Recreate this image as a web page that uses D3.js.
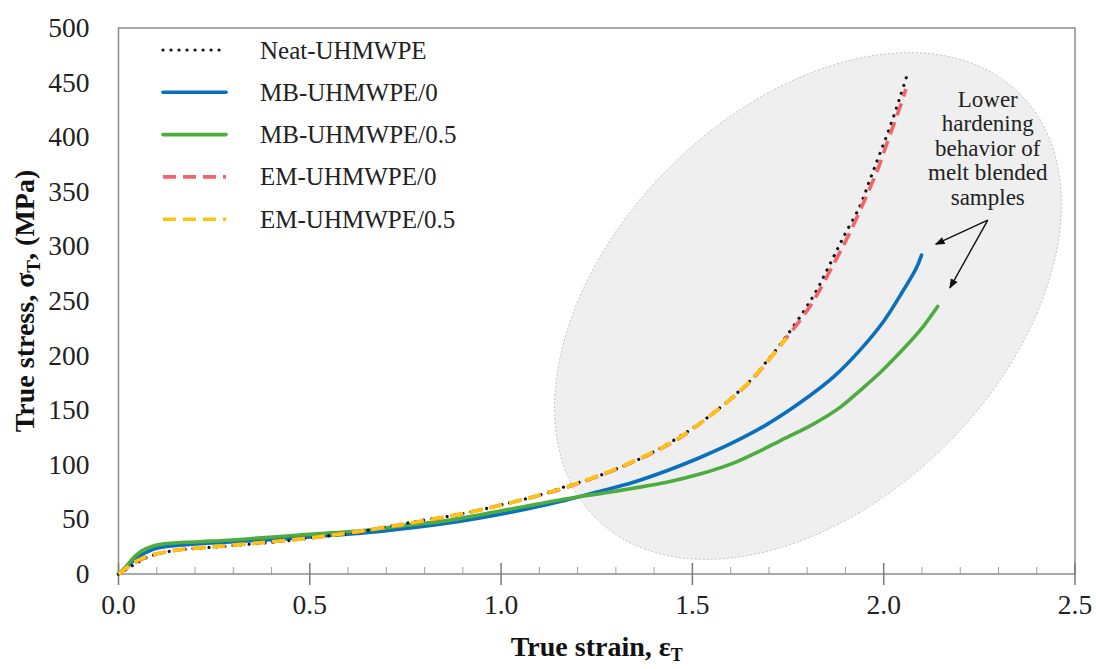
<!DOCTYPE html>
<html>
<head>
<meta charset="utf-8">
<script src="https://cdn.jsdelivr.net/npm/d3@7.9.0/dist/d3.min.js"></script>
<style>
  body { margin: 0; background: #fff; }
  svg { display: block; font-family: "Liberation Serif", "DejaVu Serif", serif; }
</style>
</head>
<body>
<svg id="chart" width="1096" height="669"></svg>
<script>
// values (true strain vs true stress, MPa)
const neatStrain = [0, 0.02, 0.04, 0.06, 0.08, 0.115, 0.16, 0.2, 0.265, 0.35, 0.42, 0.5, 0.6, 0.683, 0.8, 0.866, 0.945, 1.006, 1.093, 1.154, 1.232, 1.293, 1.363, 1.42, 1.49, 1.542, 1.603, 1.651, 1.703, 1.742, 1.79, 1.825, 1.86, 1.894, 1.938, 1.964, 1.99, 2.017, 2.043, 2.064];
const neatStress = [0, 4, 8.5, 12.5, 16, 19.5, 22, 23.5, 25, 27.5, 29.6, 33, 37, 42, 49.5, 53, 58.6, 63.8, 71.5, 78.5, 87, 95, 105.5, 116, 131, 144, 161.5, 177, 198.5, 216, 240, 260, 284, 308, 337, 361, 385, 410, 437, 460];

const mb0Strain = [0, 0.02, 0.04, 0.06, 0.08, 0.1, 0.13, 0.2, 0.3, 0.4, 0.5, 0.6, 0.683, 0.858, 1.032, 1.171, 1.25, 1.346, 1.433, 1.52, 1.607, 1.695, 1.782, 1.869, 1.938, 1.999, 2.051, 2.085, 2.099];
const mb0Stress = [0, 6, 12.5, 17.5, 21, 23.5, 25.5, 27.5, 29.5, 31.5, 34, 36.5, 39, 46.4, 57, 67.8, 75, 84, 94.5, 106.7, 120.5, 137, 157, 180.5, 205, 231, 259.6, 280, 292];

const mb05Strain = [0, 0.02, 0.04, 0.06, 0.082, 0.1, 0.126, 0.213, 0.3, 0.474, 0.649, 0.736, 0.858, 1.032, 1.206, 1.259, 1.337, 1.433, 1.52, 1.607, 1.677, 1.729, 1.816, 1.886, 1.938, 1.991, 2.043, 2.095, 2.141];
const mb05Stress = [0, 7, 15, 21, 24.5, 26.5, 28, 29.6, 31.2, 35.7, 40, 44, 48.9, 60, 71, 73.5, 78, 84, 91.5, 101.5, 112.8, 122, 137.3, 152.6, 168, 184.5, 203, 223, 245];

const em0Strain = [0, 0.02, 0.04, 0.06, 0.08, 0.12, 0.17, 0.25, 0.35, 0.474, 0.6, 0.736, 0.85, 0.95, 1.05, 1.15, 1.25, 1.35, 1.45, 1.55, 1.65, 1.745, 1.807, 1.868, 1.912, 1.956, 1.986, 2.012, 2.043, 2.058];
const em0Stress = [0, 5, 10, 13.5, 16.5, 20, 22.6, 25, 28, 32, 37.5, 45, 52, 59, 67.5, 77, 89, 103.5, 121, 146, 176, 216, 245, 283, 313, 347, 372, 398, 428, 444];

const em05Strain = [0, 0.02, 0.04, 0.06, 0.08, 0.12, 0.17, 0.25, 0.35, 0.474, 0.6, 0.736, 0.85, 0.95, 1.05, 1.15, 1.25, 1.35, 1.45, 1.55, 1.65, 1.745];
const em05Stress = [0, 5.5, 10.5, 14, 17, 20, 22.6, 25, 28, 32, 37.5, 45, 52, 59, 67.5, 77.5, 89.5, 104, 121.5, 146, 176.5, 216];

const seriesNames = ['Neat-UHMWPE', 'MB-UHMWPE/0', 'MB-UHMWPE/0.5', 'EM-UHMWPE/0', 'EM-UHMWPE/0.5'];
const xTicks = [0, 0.5, 1.0, 1.5, 2.0, 2.5];
const yTicks = [0, 50, 100, 150, 200, 250, 300, 350, 400, 450, 500];
const noteLines = ['Lower', 'hardening', 'behavior of', 'melt blended', 'samples'];

const svg = d3.select('#chart');
const pLeft = 118.5, pRight = 1075, pTop = 28, pBottom = 574;

let x = d3.scaleLinear().domain([0, 2.5]).range([pLeft, pRight]);
let y = d3.scaleLinear().domain([0, 500]).range([pBottom, pTop]);

const styles = [
  { color: '#111', width: 3.2, dash: '0.01 8', cap: 'round' },
  { color: '#0a6fbd', width: 3.6, dash: null, cap: 'round' },
  { color: '#4cad3e', width: 3.6, dash: null, cap: 'round' },
  { color: '#f0646a', width: 3.6, dash: '13 7', cap: 'butt' },
  { color: '#ffc20e', width: 3.6, dash: '13 7', cap: 'butt' },
];

// grey ellipse behind the high-strain part
svg.append('ellipse')
  .attr('cx', 0).attr('cy', 0)
  .attr('rx', 300).attr('ry', 196)
  .attr('transform', `translate(${x(1.802)},${y(245.4)}) rotate(-45)`)
  .attr('fill', '#efefef')
  .attr('stroke', '#b5b5b5')
  .attr('stroke-width', 0.8)
  .attr('stroke-dasharray', '2 2');

// frame
svg.append('rect')
  .attr('x', pLeft).attr('y', pTop)
  .attr('width', pRight - pLeft).attr('height', pBottom - pTop)
  .attr('fill', 'none').attr('stroke', '#8c8c8c').attr('stroke-width', 1.5);

// x axis ticks
let minor = d3.range(1, 25).map(d => d / 10).filter(d => Math.abs(d * 2 - Math.round(d * 2)) > 1e-6);
svg.append('g').selectAll('line').data(minor).join('line')
  .attr('x1', d => x(d)).attr('x2', d => x(d))
  .attr('y1', pBottom - 7).attr('y2', pBottom)
  .attr('stroke', '#a0a0a0').attr('stroke-width', 1);
svg.append('g').selectAll('line').data(xTicks).join('line')
  .attr('x1', d => x(d)).attr('x2', d => x(d))
  .attr('y1', pBottom - 11).attr('y2', pBottom + 11)
  .attr('stroke', '#7a7a7a').attr('stroke-width', 1.5);

svg.append('g').selectAll('text').data(xTicks).join('text')
  .attr('x', d => x(d)).attr('y', 614)
  .attr('text-anchor', 'middle')
  .attr('font-size', 27.5)
  .attr('fill', '#222')
  .text(d => d.toFixed(1));

svg.append('g').selectAll('text').data(yTicks).join('text')
  .attr('x', 89.5).attr('y', d => y(d) + 9)
  .attr('text-anchor', 'end')
  .attr('font-size', 27.5)
  .attr('fill', '#222')
  .text(d => d);

// axis titles
let xt = svg.append('text')
  .attr('x', (pLeft + pRight) / 2).attr('y', 656)
  .attr('text-anchor', 'middle')
  .attr('font-size', 28).attr('font-weight', 'bold').attr('fill', '#111');
xt.append('tspan').text('True strain, ε');
xt.append('tspan').attr('font-size', 18).attr('dy', 5).text('T');

let yt = svg.append('text')
  .attr('transform', `translate(34,${(pTop + pBottom) / 2}) rotate(-90)`)
  .attr('text-anchor', 'middle')
  .attr('font-size', 28).attr('font-weight', 'bold').attr('fill', '#111');
yt.append('tspan').text('True stress, σ');
yt.append('tspan').attr('font-size', 19).attr('dy', 6).text('T');
yt.append('tspan').attr('dy', -6).text(', (MPa)');

// curves
let line = d3.line()
  .x(d => x(d[0]))
  .y(d => y(d[1]))
  .curve(d3.curveCatmullRom.alpha(0.5));

const curves = [
  { s: 1, xs: mb0Strain, ys: mb0Stress },
  { s: 2, xs: mb05Strain, ys: mb05Stress },
  { s: 0, xs: neatStrain, ys: neatStress },
  { s: 3, xs: em0Strain, ys: em0Stress },
  { s: 4, xs: em05Strain, ys: em05Stress },
];

curves.forEach(c => {
  let st = styles[c.s];
  svg.append('path')
    .datum(d3.zip(c.xs, c.ys))
    .attr('d', line)
    .attr('fill', 'none')
    .attr('stroke', st.color)
    .attr('stroke-width', st.width)
    .attr('stroke-linecap', st.cap)
    .attr('stroke-dasharray', st.dash);
});

// legend
seriesNames.forEach((name, i) => {
  let st = styles[i];
  let ly = 50 + i * 42.3;
  svg.append('line')
    .attr('x1', 163).attr('x2', 226)
    .attr('y1', ly).attr('y2', ly)
    .attr('stroke', st.color)
    .attr('stroke-width', st.width)
    .attr('stroke-linecap', st.cap)
    .attr('stroke-dasharray', st.dash);
  svg.append('text')
    .attr('x', 260).attr('y', ly + 8.5)
    .attr('font-size', 25)
    .attr('fill', '#222')
    .text(name);
});

// annotation
svg.append('defs').append('marker')
  .attr('id', 'head')
  .attr('viewBox', '0 0 10 10')
  .attr('refX', 9).attr('refY', 5)
  .attr('markerWidth', 7).attr('markerHeight', 7)
  .attr('orient', 'auto')
  .append('path').attr('d', 'M0,1 L10,5 L0,9 z').attr('fill', '#111');

let note = svg.append('text')
  .attr('text-anchor', 'middle')
  .attr('font-size', 23)
  .attr('fill', '#222');
noteLines.forEach((t, i) => {
  note.append('tspan')
    .attr('x', x(2.272))
    .attr('y', y(428) + i * 24.5)
    .text(t);
});

[[2.136, 302], [2.173, 262]].forEach(p => {
  svg.append('line')
    .attr('x1', x(2.272)).attr('y1', y(324))
    .attr('x2', x(p[0])).attr('y2', y(p[1]))
    .attr('stroke', '#111').attr('stroke-width', 1.4)
    .attr('marker-end', 'url(#head)');
});
</script>
</body>
</html>
